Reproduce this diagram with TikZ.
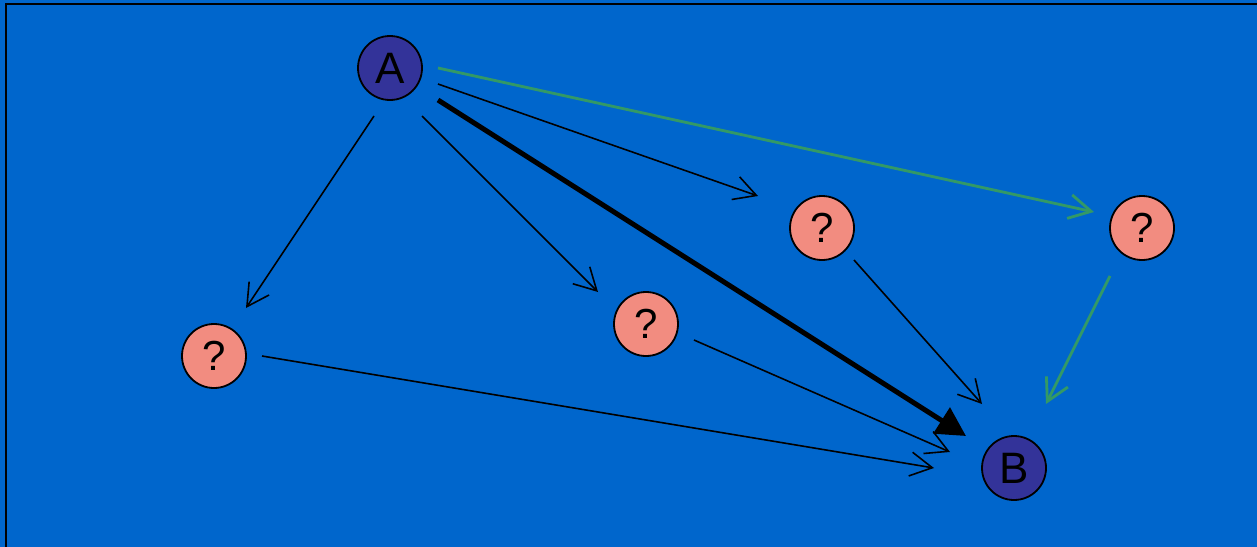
\documentclass[tikz,border=0pt]{standalone}
\usepackage{fontspec}
\setmainfont{Liberation Sans}
\usetikzlibrary{arrows.meta,calc}
\definecolor{bgblue}{HTML}{0066CC}
\definecolor{endfill}{HTML}{333399}
\definecolor{qfill}{HTML}{F28C80}
\definecolor{gline}{HTML}{339966}
\begin{document}
\begin{tikzpicture}[x=1pt,y=-1pt,
  endpt/.style={circle,draw=black,line width=1.8pt,fill=endfill,minimum size=64pt,inner sep=0pt,font=\fontsize{44}{48}\selectfont},
  qpt/.style={circle,draw=black,line width=1.8pt,fill=qfill,minimum size=64pt,inner sep=0pt,font=\fontsize{42}{48}\selectfont},
  thin/.style={draw=black,line width=1.6pt,-{Straight Barb[length=22pt,width=24pt,line width=1.6pt]}},
  green/.style={draw=gline,line width=2.8pt,-{Straight Barb[length=22pt,width=24pt,line width=2.8pt]}},
  thick/.style={draw=black,line width=5pt,-{Triangle[length=29pt,width=30pt]}}]
\useasboundingbox (0,0) rectangle (1257,546);
\fill[bgblue] (-2,-2) rectangle (1260,549);
\draw[black,line width=2pt] (6,550) -- (6,4.3) -- (1262,4.3);
\node[endpt] (A) at (390,68) {A};
\node[endpt] (B) at (1014,468) {B};
\node[qpt] (Q1) at (214,356) {?};
\node[qpt] (Q2) at (646,324) {?};
\node[qpt] (Q3) at (822,228) {?};
\node[qpt] (Q4) at (1142,228) {?};
\draw[thin] ($(A)+(-16,48)$) -- ($(Q1)+(32,-48)$);
\draw[thin] ($(A)+(32,48)$) -- ($(Q2)+(-48,-32)$);
\draw[thin] ($(A)+(48,16)$) -- ($(Q3)+(-64,-32)$);
\draw[green] ($(A)+(48,0)$) -- ($(Q4)+(-48,-16)$);
\draw[thick] ($(A)+(48,32)$) -- ($(B)+(-48,-32)$);
\draw[thin] ($(Q1)+(48,0)$) -- ($(B)+(-80,0)$);
\draw[thin] ($(Q2)+(48,16)$) -- ($(B)+(-64,-16)$);
\draw[thin] ($(Q3)+(32,32)$) -- ($(B)+(-32,-64)$);
\draw[green] ($(Q4)+(-32,48)$) -- ($(B)+(32,-64)$);
\end{tikzpicture}
\end{document}
